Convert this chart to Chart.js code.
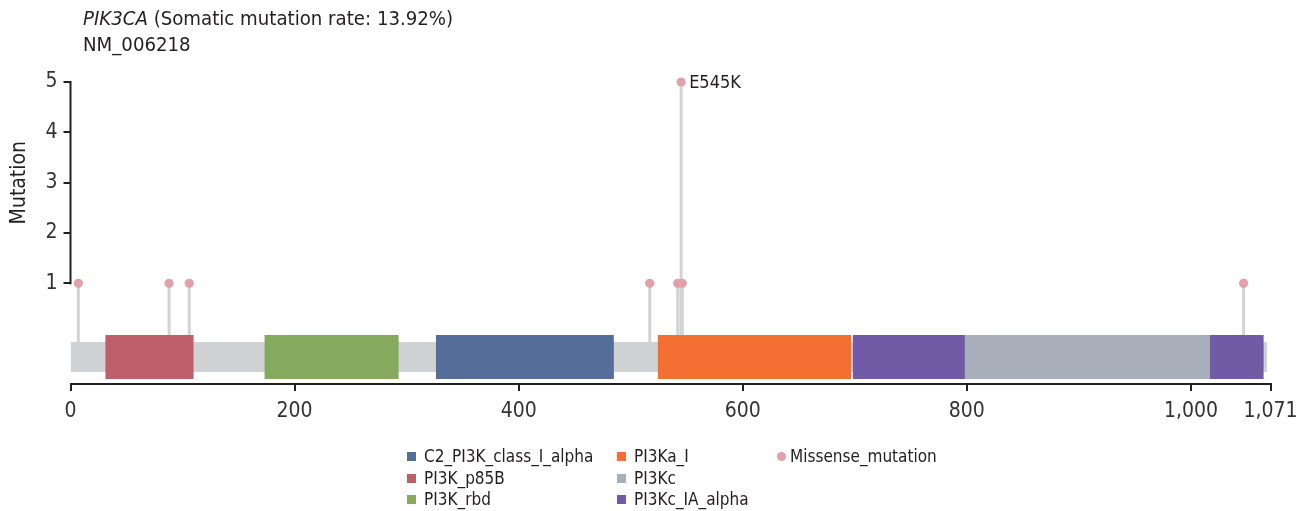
<!DOCTYPE html>
<html>
<head>
<meta charset="utf-8">
<script src="https://cdn.jsdelivr.net/npm/chart.js@4.4.1/dist/chart.umd.min.js"></script>
<style>
  html, body { margin: 0; padding: 0; background: #ffffff; }
  body { width: 1303px; height: 511px; position: relative; overflow: hidden;
         font-family: "Liberation Sans Narrow", "DejaVu Sans Condensed", "Roboto", sans-serif; color: #231f20; }
  #wrap { position: absolute; left: 0; top: 0; width: 1303px; height: 511px; }
  #title { position: absolute; left: 83px; top: 5px; font-size: 20.2px; line-height: 26px; }
  #title i { font-style: italic; }
  #legend { position: absolute; left: 0; top: 0; font-size: 17px; }
  .item { position: absolute; display: flex; align-items: center; white-space: nowrap; height: 20px; }
  .sw { width: 9px; height: 9px; margin-right: 8px; }
  .dot { width: 9px; height: 9px; border-radius: 50%; margin-right: 4px; }
</style>
</head>
<body>
<div id="wrap"><canvas id="chart" width="1303" height="511"></canvas></div>
<div id="title"><i>PIK3CA</i> (Somatic mutation rate: 13.92%)<br>NM_006218</div>
<div id="legend"></div>
<script>
// Protein track: PIK3CA, transcript NM_006218
const proteinLength = 1068;
const axisMax = 1071;
const xTicks = [0, 200, 400, 600, 800, 1000, 1071];
const yTicks = [1, 2, 3, 4, 5];

// Pfam domains drawn on the backbone (later segments paint over earlier ones)
const domainNames  = ['PI3K_p85B', 'PI3K_rbd', 'C2_PI3K_class_I_alpha', 'PI3Ka_I', 'PI3Kc_IA_alpha', 'PI3Kc'];
const domainStarts = [31, 173, 326, 524, 698, 798];
const domainEnds   = [110, 293, 485, 697, 1065, 1017];

// Missense mutations: residue position and number of samples
const mutationPos    = [7, 88, 106, 517, 542, 545, 546, 1047];
const mutationCounts = [1, 1, 1, 1, 1, 5, 1, 1];
const mutationLabels = [null, null, null, null, null, 'E545K', null, null];

// Legend entries (three columns)
const legendDomains = ['C2_PI3K_class_I_alpha', 'PI3K_p85B', 'PI3K_rbd', 'PI3Ka_I', 'PI3Kc', 'PI3Kc_IA_alpha'];
const legendMutation = 'Missense_mutation';

const domainColors = {
  'C2_PI3K_class_I_alpha': '#556e99',
  'PI3K_p85B': '#be5f69',
  'PI3K_rbd': '#85aa5d',
  'PI3Ka_I': '#f37032',
  'PI3Kc': '#a8afba',
  'PI3Kc_IA_alpha': '#725ba6'
};
const backboneColor = '#d1d2d4';
const stemColor = '#d3d3d6';
const dotColor = '#e1a1a7';
const inkColor = '#231f20';
const FONT = '"Liberation Sans Narrow", "DejaVu Sans Condensed", Roboto, sans-serif';

// vertical placement of the track below the zero line (value units)
const BACKBONE_TOP = -0.165, BACKBONE_BOTTOM = -0.76;
const DOMAIN_TOP = -0.026, DOMAIN_BOTTOM = -0.9;
const STEM_BASE = -0.4;

function buildDatasets() {
  const datasets = [];
  // stems: one broken line, each stem separated by a null point
  const stemData = [];
  mutationPos.forEach((p, i) => {
    stemData.push({x: p, y: STEM_BASE}, {x: p, y: mutationCounts[i]}, {x: p, y: null});
  });
  datasets.push({
    label: 'stems', data: stemData, borderColor: stemColor, borderWidth: 3,
    pointRadius: 0, spanGaps: false, fill: false, order: 5
  });
  // backbone
  datasets.push({
    label: 'backbone',
    data: [{x: 0, y: BACKBONE_TOP}, {x: proteinLength, y: BACKBONE_TOP}],
    borderWidth: 0, borderColor: 'rgba(0,0,0,0)', backgroundColor: backboneColor,
    pointRadius: 0, fill: {value: BACKBONE_BOTTOM}, order: 4
  });
  // domains
  domainNames.forEach((name, i) => {
    datasets.push({
      label: name,
      data: [{x: domainStarts[i], y: DOMAIN_TOP}, {x: domainEnds[i], y: DOMAIN_TOP}],
      borderWidth: 0, borderColor: 'rgba(0,0,0,0)', backgroundColor: domainColors[name],
      pointRadius: 0, fill: {value: DOMAIN_BOTTOM}, order: 3 - i * 0.1
    });
  });
  // lollipop heads
  datasets.push({
    label: legendMutation,
    data: mutationPos.map((p, i) => ({x: p, y: mutationCounts[i]})),
    showLine: false, pointRadius: 4.6, pointHoverRadius: 4.6, clip: false,
    pointBackgroundColor: dotColor, pointBorderWidth: 0, borderColor: dotColor, order: 1
  });
  return datasets;
}

const overlay = {
  id: 'overlay',
  afterDraw(chart) {
    const ctx = chart.ctx;
    const xs = chart.scales.x, ys = chart.scales.y;
    ctx.save();
    // y axis line spanning the tick range only
    ctx.strokeStyle = inkColor;
    ctx.lineWidth = 2;
    ctx.beginPath();
    const ax = Math.round(xs.left) - 0.5;
    ctx.moveTo(ax, ys.getPixelForValue(yTicks[yTicks.length - 1]) - 1);
    ctx.lineTo(ax, ys.getPixelForValue(yTicks[0]) + 1);
    ctx.stroke();
    // axis title, centred on the tick range
    const midY = (ys.getPixelForValue(yTicks[0]) + ys.getPixelForValue(yTicks[yTicks.length - 1])) / 2;
    ctx.translate(20, midY);
    ctx.rotate(-Math.PI / 2);
    ctx.fillStyle = inkColor;
    ctx.font = '21px ' + FONT;
    ctx.textAlign = 'center';
    ctx.textBaseline = 'middle';
    ctx.fillText('Mutation', 0, 0);
    ctx.restore();
    // mutation labels
    ctx.save();
    ctx.fillStyle = inkColor;
    ctx.font = '18px ' + FONT;
    ctx.textAlign = 'left';
    ctx.textBaseline = 'middle';
    mutationLabels.forEach((lab, i) => {
      if (!lab) return;
      ctx.fillText(lab, xs.getPixelForValue(mutationPos[i]) + 8, ys.getPixelForValue(mutationCounts[i]) + 1);
    });
    ctx.restore();
  }
};

function drawChart() {
  new Chart(document.getElementById('chart'), {
    type: 'line',
    data: {datasets: buildDatasets()},
    options: {
      responsive: false,
      animation: false,
      events: [],
      layout: {padding: {top: 82, right: 32.5, bottom: 87, left: 0}},
      plugins: {legend: {display: false}, tooltip: {enabled: false}, title: {display: false}},
      scales: {
        x: {
          type: 'linear', min: 0, max: axisMax,
          afterFit(s) { s.height = 40; s.paddingLeft = 0; s.paddingRight = 0; },
          afterBuildTicks(s) { s.ticks = xTicks.map(v => ({value: v})); },
          ticks: {
            autoSkip: false, maxRotation: 0, padding: 8, color: '#333333',
            font: {family: FONT, size: 21},
            callback: v => v.toLocaleString('en-US')
          },
          grid: {drawOnChartArea: false, drawTicks: true, tickLength: 7, color: inkColor, lineWidth: 2},
          border: {display: true, color: inkColor, width: 2}
        },
        y: {
          type: 'linear', min: -1, max: 5,
          afterFit(s) { s.width = 70.5; s.paddingTop = 0; s.paddingBottom = 0; },
          afterBuildTicks(s) { s.ticks = yTicks.map(v => ({value: v})); },
          ticks: {
            autoSkip: false, padding: 6, color: '#333333',
            font: {family: FONT, size: 21}
          },
          grid: {drawOnChartArea: false, drawTicks: true, tickLength: 7, color: inkColor, lineWidth: 2},
          border: {display: false}
        }
      }
    },
    plugins: [overlay]
  });
}

// HTML legend in three columns
const legendEl = document.getElementById('legend');
const colX = [407, 617, 777];
const rowY = [446, 468, 489];
legendDomains.forEach((name, i) => {
  const col = Math.floor(i / 3), row = i % 3;
  const d = document.createElement('div');
  d.className = 'item';
  d.style.left = colX[col] + 'px';
  d.style.top = rowY[row] + 'px';
  d.innerHTML = '<span class="sw" style="background:' + domainColors[name] + '"></span>' + name;
  legendEl.appendChild(d);
});
const m = document.createElement('div');
m.className = 'item';
m.style.left = colX[2] + 'px';
m.style.top = rowY[0] + 'px';
m.innerHTML = '<span class="dot" style="background:' + dotColor + '"></span>' + legendMutation;
legendEl.appendChild(m);

// make sure the narrow face is ready before the canvas text is drawn
Promise.all([
  document.fonts.load('21px "Liberation Sans Narrow"'),
  document.fonts.load('italic 21px "Liberation Sans Narrow"')
]).then(drawChart, drawChart);
</script>
</body>
</html>
